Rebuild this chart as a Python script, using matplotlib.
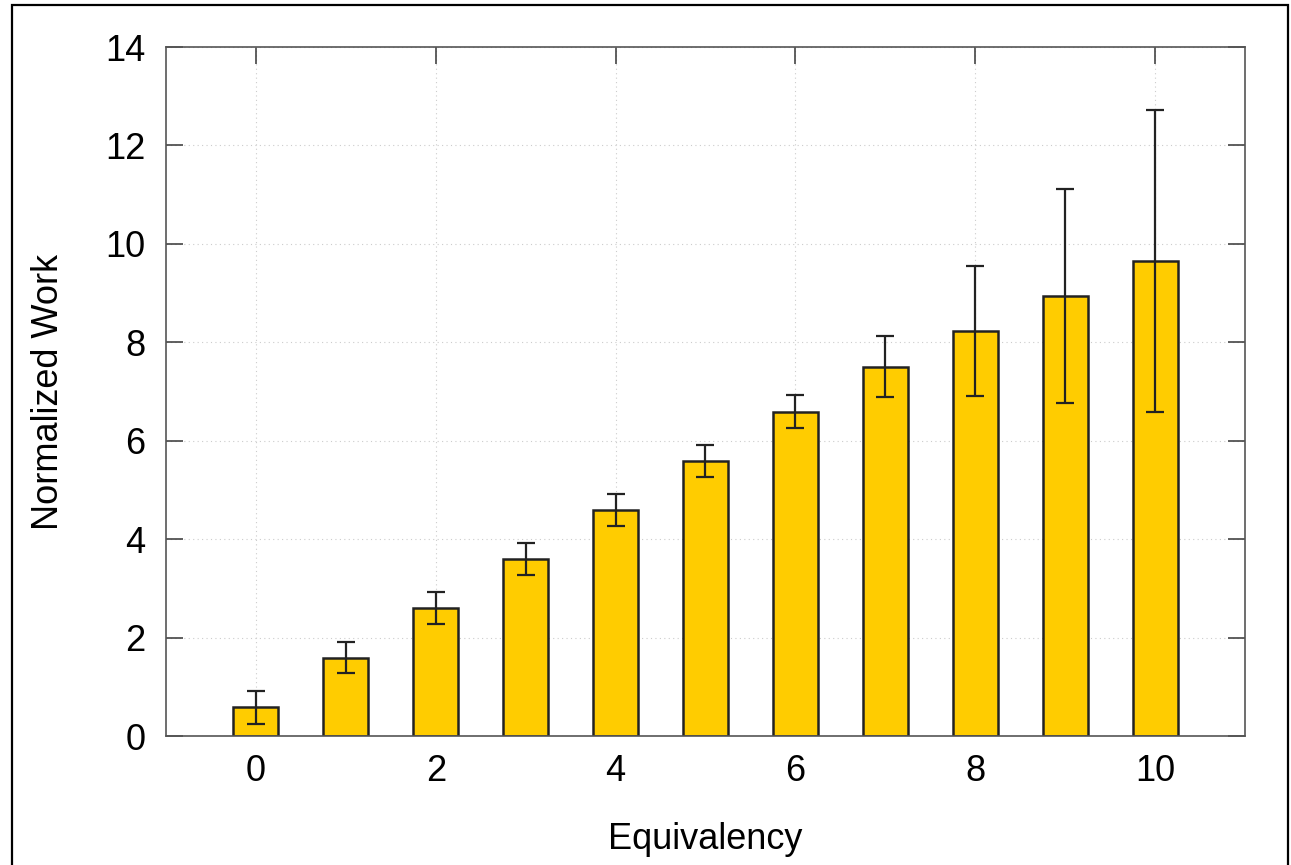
import numpy as np
import matplotlib.pyplot as plt
from matplotlib.patches import Rectangle

plt.rcParams['font.family'] = ['Liberation Sans', 'DejaVu Sans']

equivalency = [0, 1, 2, 3, 4, 5, 6, 7, 8, 9, 10]
work = [0.58, 1.59, 2.60, 3.60, 4.59, 5.59, 6.59, 7.50, 8.22, 8.94, 9.65]
err = [0.33, 0.32, 0.33, 0.33, 0.33, 0.33, 0.33, 0.62, 1.32, 2.17, 3.06]

fig = plt.figure(figsize=(12.91, 8.65), dpi=100)
ax = fig.add_axes([166/1291, 1-736/865, (1245-166)/1291, (736-47)/865])

ax.bar(equivalency, work, width=0.5, color='#ffcc00', edgecolor='#222222',
       linewidth=1.8, zorder=2)
ax.errorbar(equivalency, work, yerr=err, fmt='none', ecolor='#222222',
            elinewidth=1.6, capsize=6.5, capthick=1.6, zorder=3)

ax.set_xlim(-1, 11)
ax.set_ylim(0, 14)
ax.set_xticks(range(0, 11, 2))
ax.set_yticks(range(0, 15, 2))
ax.grid(True, linestyle=(0, (1, 3)), color='#cccccc', linewidth=0.8, zorder=0)
ax.tick_params(direction='in', length=12, width=1.2, color='#444444',
               top=True, right=True, labelsize=26)
ax.tick_params(axis='x', pad=13)
ax.tick_params(axis='y', pad=15)
for s in ax.spines.values():
    s.set_color('#555555')
    s.set_linewidth(1.2)

ax.set_xlabel('Equivalency', fontsize=26, labelpad=24)
ax.set_ylabel('Normalized Work', fontsize=26, labelpad=28)

fig.patches.append(Rectangle((12/1291, -0.02), (1288-12)/1291, 1.02-5/865,
                             transform=fig.transFigure, fill=False,
                             edgecolor='black', linewidth=1.6))

fig.savefig('out.png', dpi=100)
